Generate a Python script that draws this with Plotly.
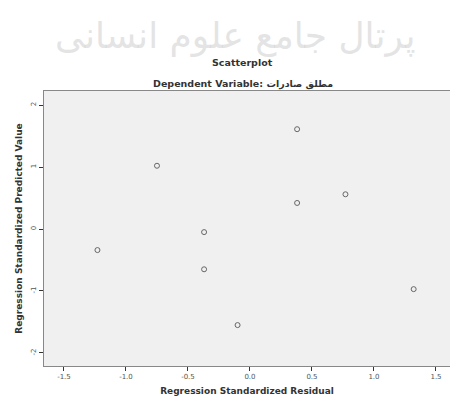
import plotly.graph_objects as go

# Data
residual = [-1.23, -0.75, -0.37, -0.37, -0.10, 0.38, 0.38, 0.77, 1.32]
predicted = [-0.34, 1.02, -0.05, -0.65, -1.55, 1.61, 0.42, 0.56, -0.97]
x_ticks = [-1.5, -1.0, -0.5, 0.0, 0.5, 1.0, 1.5]
x_tick_labels = ["-1.5", "-1.0", "-0.5", "0.0", "0.5", "1.0", "1.5"]
y_ticks = [-2, -1, 0, 1, 2]
y_tick_labels = ["-2", "-1", "0", "1", "2"]

fig = go.Figure()
fig.add_trace(go.Scatter(
    x=residual, y=predicted, mode="markers",
    marker=dict(symbol="circle-open", size=5, color="#666666", line=dict(width=1, color="#666666")),
    showlegend=False, hoverinfo="x+y",
))

fig.update_layout(
    width=450, height=398,
    margin=dict(l=44, r=0, t=91, b=32),
    paper_bgcolor="white",
    plot_bgcolor="#f0f0f0",
    font=dict(family="DejaVu Sans, sans-serif", color="#333333"),
    annotations=[
        dict(text="پرتال جامع علوم انسانی", x=0.47, y=1.0, xref="paper", yref="paper",
             xanchor="center", yanchor="bottom", yshift=32, showarrow=False,
             font=dict(family="DejaVu Sans", size=36, color="rgba(205,205,205,0.55)")),
        dict(text="<b>Scatterplot</b>", x=0.49, y=1.0, xref="paper", yref="paper",
             xanchor="center", yanchor="bottom", yshift=21, showarrow=False,
             font=dict(size=9.5, color="#333333")),
        dict(text="<b>Dependent Variable: مطلق صادرات</b>", x=0.49, y=1.0, xref="paper", yref="paper",
             xanchor="center", yanchor="bottom", yshift=-1, showarrow=False,
             font=dict(size=9.5, color="#333333")),
    ],
)

fig.update_xaxes(
    range=[-1.661, 1.613], tickvals=x_ticks, ticktext=x_tick_labels,
    showgrid=False, zeroline=False, showline=True, linecolor="#888888", linewidth=1,
    ticks="outside", ticklen=4, tickcolor="#333333", tickfont=dict(size=7, color="#555555"),
    title=dict(text="<b>Regression Standardized Residual</b>", font=dict(size=9, color="#333333"), standoff=7),
    mirror=True,
)
fig.update_yaxes(
    range=[-2.21, 2.226], tickvals=y_ticks, ticktext=y_tick_labels, tickangle=-90,
    showgrid=False, zeroline=False, showline=True, linecolor="#888888", linewidth=1,
    ticks="outside", ticklen=4, tickcolor="#333333", tickfont=dict(size=7, color="#555555"),
    title=dict(text="<b>Regression Standardized Predicted Value</b>", font=dict(size=9, color="#333333"), standoff=6),
    mirror=True,
)

fig.write_html("out.html", config={"displayModeBar": False},
               post_script="document.body.style.margin='0';document.body.style.overflow='hidden';")
